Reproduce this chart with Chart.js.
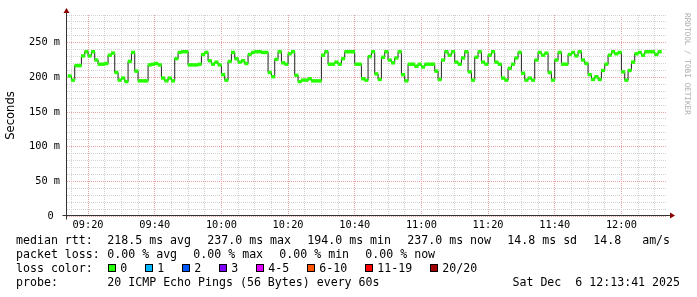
<!DOCTYPE html>
<html>
<head>
<meta charset="utf-8">
<title>Median RTT</title>
<script src="https://cdn.jsdelivr.net/npm/chart.js@4.4.1/dist/chart.umd.min.js"></script>
<style>
    html, body { margin: 0; padding: 0; background: #fff; }
    #wrap { position: relative; width: 697px; height: 297px; overflow: hidden; background: #fff; }
    #chart { position: absolute; left: 0; top: 0; }
    .row {
        position: absolute; left: 0; width: 697px; height: 14px; line-height: 14px;
        font-family: "DejaVu Sans Mono", monospace; font-size: 11.6px; color: #000; white-space: pre;
    }
    .row span { position: absolute; top: 0; }
    .row .box { width: 6px; height: 6px; top: 3px; border: 1px solid #000; }
    #credit {
        position: absolute; left: 683px; top: 13px; line-height: 8px;
        writing-mode: vertical-rl; white-space: pre;
        font-family: "DejaVu Sans Mono", monospace; font-size: 7.7px; color: #aaaaaa;
    }
</style>
</head>
<body>
<div id="wrap">
    <canvas id="chart" width="697" height="297"></canvas>
    <div id="legend"></div>
    <div id="credit">RRDTOOL / TOBI OETIKER</div>
</div>
<script>
// Median RTT per minute (ms), first sample at 09:14
const firstMinute = 14;     // minutes after 09:00
const viewStart = 13.68;    // 09:13:41
const viewEnd = 193.68;     // 12:13:41
const medianRtt = [
    202, 196, 217, 217, 231, 237, 231, 237, 225, 219, 219, 220, 232, 235, 207, 196, 199, 194, 223, 236,
    209, 195, 195, 195, 218, 219, 220, 218, 199, 195, 199, 195, 227, 236, 237, 237, 218, 218, 218, 219,
    233, 236, 224, 219,
    222, 218, 204, 196, 223, 236, 227, 222, 224, 220, 233, 236, 237, 237, 236, 236, 207, 201, 226, 237,
    221, 219, 234, 237, 203, 194, 196, 196, 198, 195, 195, 195, 232, 237, 219, 219, 222, 219, 227, 237,
    237, 237, 219, 219, 198,
    196, 230, 237, 205, 197, 229, 237, 225, 221, 228, 237, 204, 195, 219, 219, 216, 219, 215, 219, 219,
    219, 209, 197, 225, 237, 232, 237, 222, 219, 228, 237, 208, 196, 229, 237, 222, 219, 232, 237, 222,
    219, 199, 196, 213, 219,
    228, 236, 206, 196, 199, 196, 225, 236, 232, 235, 207, 196, 225, 236, 219, 219, 233, 236, 231, 237,
    225, 220, 204, 197, 201, 197, 210, 219, 232, 237, 234, 236, 208, 196, 210, 222, 234, 236, 232, 237,
    237, 237, 233, 237
];

// Axis ticks
const xTickMinutes = [20, 40, 60, 80, 100, 120, 140, 160, 180];
const xTickLabels = ['09:20', '09:40', '10:00', '10:20', '10:40', '11:00', '11:20', '11:40', '12:00'];
const yTickValues = [0, 50, 100, 150, 200, 250];
const yTickLabels = ['0 ', '50 m', '100 m', '150 m', '200 m', '250 m'];

// Legend texts
const rttStats = ['218.5 ms avg', '237.0 ms max', '194.0 ms min', '237.0 ms now', '14.8 ms sd', '14.8   am/s'];
const lossStats = ['0.00 % avg', '0.00 % max', '0.00 % min', '0.00 % now'];
const lossLabels = ['0', '1', '2', '3', '4-5', '6-10', '11-19', '20/20'];
const lossColors = ['#26ff00', '#00b8ff', '#0059ff', '#7e00ff', '#e000ff', '#ff5500', '#ff0000', '#a10000'];
const probeText = '20 ICMP Echo Pings (56 Bytes) every 60s';
const stampText = 'Sat Dec  6 12:13:41 2025';

const lossBand = 2;  // half height of the loss colour band, ms
const minorGrid = '#d2d2d2';
const majorGrid = '#eaa2a2';
const tickFont = { family: 'DejaVu Sans Mono', size: 10.3 };

// Axis lines with arrow heads, drawn the RRDtool way
const axisArrows = {
    id: 'axisArrows',
    afterDatasetsDraw(chart) {
        const { ctx, chartArea } = chart;
        const x0 = chartArea.left - 0.5;
        const y0 = chartArea.bottom - 0.5;
        ctx.save();
        ctx.strokeStyle = '#333';
        ctx.lineWidth = 1;
        ctx.beginPath();
        ctx.moveTo(x0, y0 + 4);
        ctx.lineTo(x0, chartArea.top - 2);
        ctx.moveTo(x0 - 4, y0);
        ctx.lineTo(chartArea.right + 3, y0);
        ctx.stroke();
        ctx.fillStyle = '#8b0000';
        ctx.beginPath();
        ctx.moveTo(x0 - 3, chartArea.top - 2);
        ctx.lineTo(x0 + 3, chartArea.top - 2);
        ctx.lineTo(x0, chartArea.top - 7);
        ctx.closePath();
        ctx.fill();
        ctx.beginPath();
        ctx.moveTo(chartArea.right + 3, y0 - 3);
        ctx.lineTo(chartArea.right + 3, y0 + 3);
        ctx.lineTo(chartArea.right + 8, y0);
        ctx.closePath();
        ctx.fill();
        ctx.restore();
    }
};

function gridTicks(from, to, step) {
    const ticks = [];
    for (let v = Math.ceil(from / step) * step; v <= to; v += step) ticks.push({ value: v });
    return ticks;
}

function buildChart() {
    const ctx = document.getElementById('chart').getContext('2d');
    new Chart(ctx, {
        type: 'bar',
        data: {
            datasets: [{
                type: 'bar',
                order: 0,
                data: medianRtt.map((v, i) => ({ x: firstMinute + i + 0.5, y: [v - lossBand, v + lossBand] })),
                backgroundColor: lossColors[0],
                borderWidth: 0,
                barPercentage: 1,
                categoryPercentage: 1
            }, {
                type: 'line',
                order: 1,
                data: medianRtt.map((v, i) => ({ x: firstMinute + i, y: v })),
                borderColor: '#202020',
                borderWidth: 1,
                stepped: true,
                pointRadius: 0,
                fill: false
            }]
        },
        options: {
            responsive: false,
            animation: false,
            devicePixelRatio: 1,
            layout: { padding: { left: 0, right: 30, top: 15, bottom: 61 } },
            plugins: { legend: { display: false }, tooltip: { enabled: false } },
            scales: {
                x: {
                    type: 'linear',
                    min: viewStart,
                    max: viewEnd,
                    offset: false,
                    afterBuildTicks: (scale) => { scale.ticks = gridTicks(viewStart, viewEnd, 5); },
                    afterFit: (scale) => { scale.height = 20; },
                    grid: {
                        offset: false,
                        drawTicks: false,
                        color: (c) => (c.tick && c.tick.value % 20 === 0 ? majorGrid : minorGrid)
                    },
                    border: { display: false, dash: [1, 1] },
                    ticks: {
                        autoSkip: false,
                        maxRotation: 0,
                        minRotation: 0,
                        padding: 3,
                        color: '#000',
                        font: tickFont,
                        callback: (v) => {
                            const i = xTickMinutes.indexOf(v);
                            return i >= 0 ? xTickLabels[i] : '';
                        }
                    }
                },
                y: {
                    min: 0,
                    max: 290,
                    afterBuildTicks: (scale) => { scale.ticks = gridTicks(0, 290, 10); },
                    afterFit: (scale) => { scale.width = 67; },
                    grid: {
                        drawTicks: false,
                        color: (c) => (c.tick && c.tick.value % 50 === 0 ? majorGrid : minorGrid)
                    },
                    border: { display: false, dash: [1, 1] },
                    ticks: {
                        autoSkip: false,
                        padding: 7,
                        color: '#000',
                        font: tickFont,
                        callback: (v) => {
                            const i = yTickValues.indexOf(v);
                            return i >= 0 ? yTickLabels[i] : '';
                        }
                    },
                    title: {
                        display: true,
                        text: 'Seconds',
                        color: '#000',
                        font: { family: 'DejaVu Sans', size: 11.6 },
                        padding: { top: 4, bottom: 0 }
                    }
                }
            }
        },
        plugins: [axisArrows]
    });
}

// Legend block under the plot
function addRow(top) {
    const row = document.createElement('div');
    row.className = 'row';
    row.style.top = top + 'px';
    document.getElementById('legend').appendChild(row);
    return row;
}

function addText(row, text, left, right) {
    const s = document.createElement('span');
    s.textContent = text;
    if (right !== undefined) s.style.right = right + 'px';
    else s.style.left = left + 'px';
    row.appendChild(s);
    return s;
}

function buildLegend() {
    const charW = 7;
    const valueCol = 107.3;

    let row = addRow(233.3);
    addText(row, 'median rtt:', 16);
    let x = valueCol;
    rttStats.forEach(t => { addText(row, t, x); x += t.length * charW + 16; });

    row = addRow(247.3);
    addText(row, 'packet loss:', 16);
    x = valueCol;
    lossStats.forEach(t => { addText(row, t, x); x += t.length * charW + 16; });

    row = addRow(261.3);
    addText(row, 'loss color:', 16);
    x = valueCol + 1;
    lossLabels.forEach((t, i) => {
        const b = document.createElement('span');
        b.className = 'box';
        b.style.left = x + 'px';
        b.style.background = lossColors[i];
        row.appendChild(b);
        addText(row, t, x + 12);
        x += 30 + t.length * charW;
    });

    row = addRow(275.3);
    addText(row, 'probe:', 16);
    addText(row, probeText, valueCol);
    addText(row, stampText, 0, 17);
}

buildChart();
buildLegend();
</script>
</body>
</html>
